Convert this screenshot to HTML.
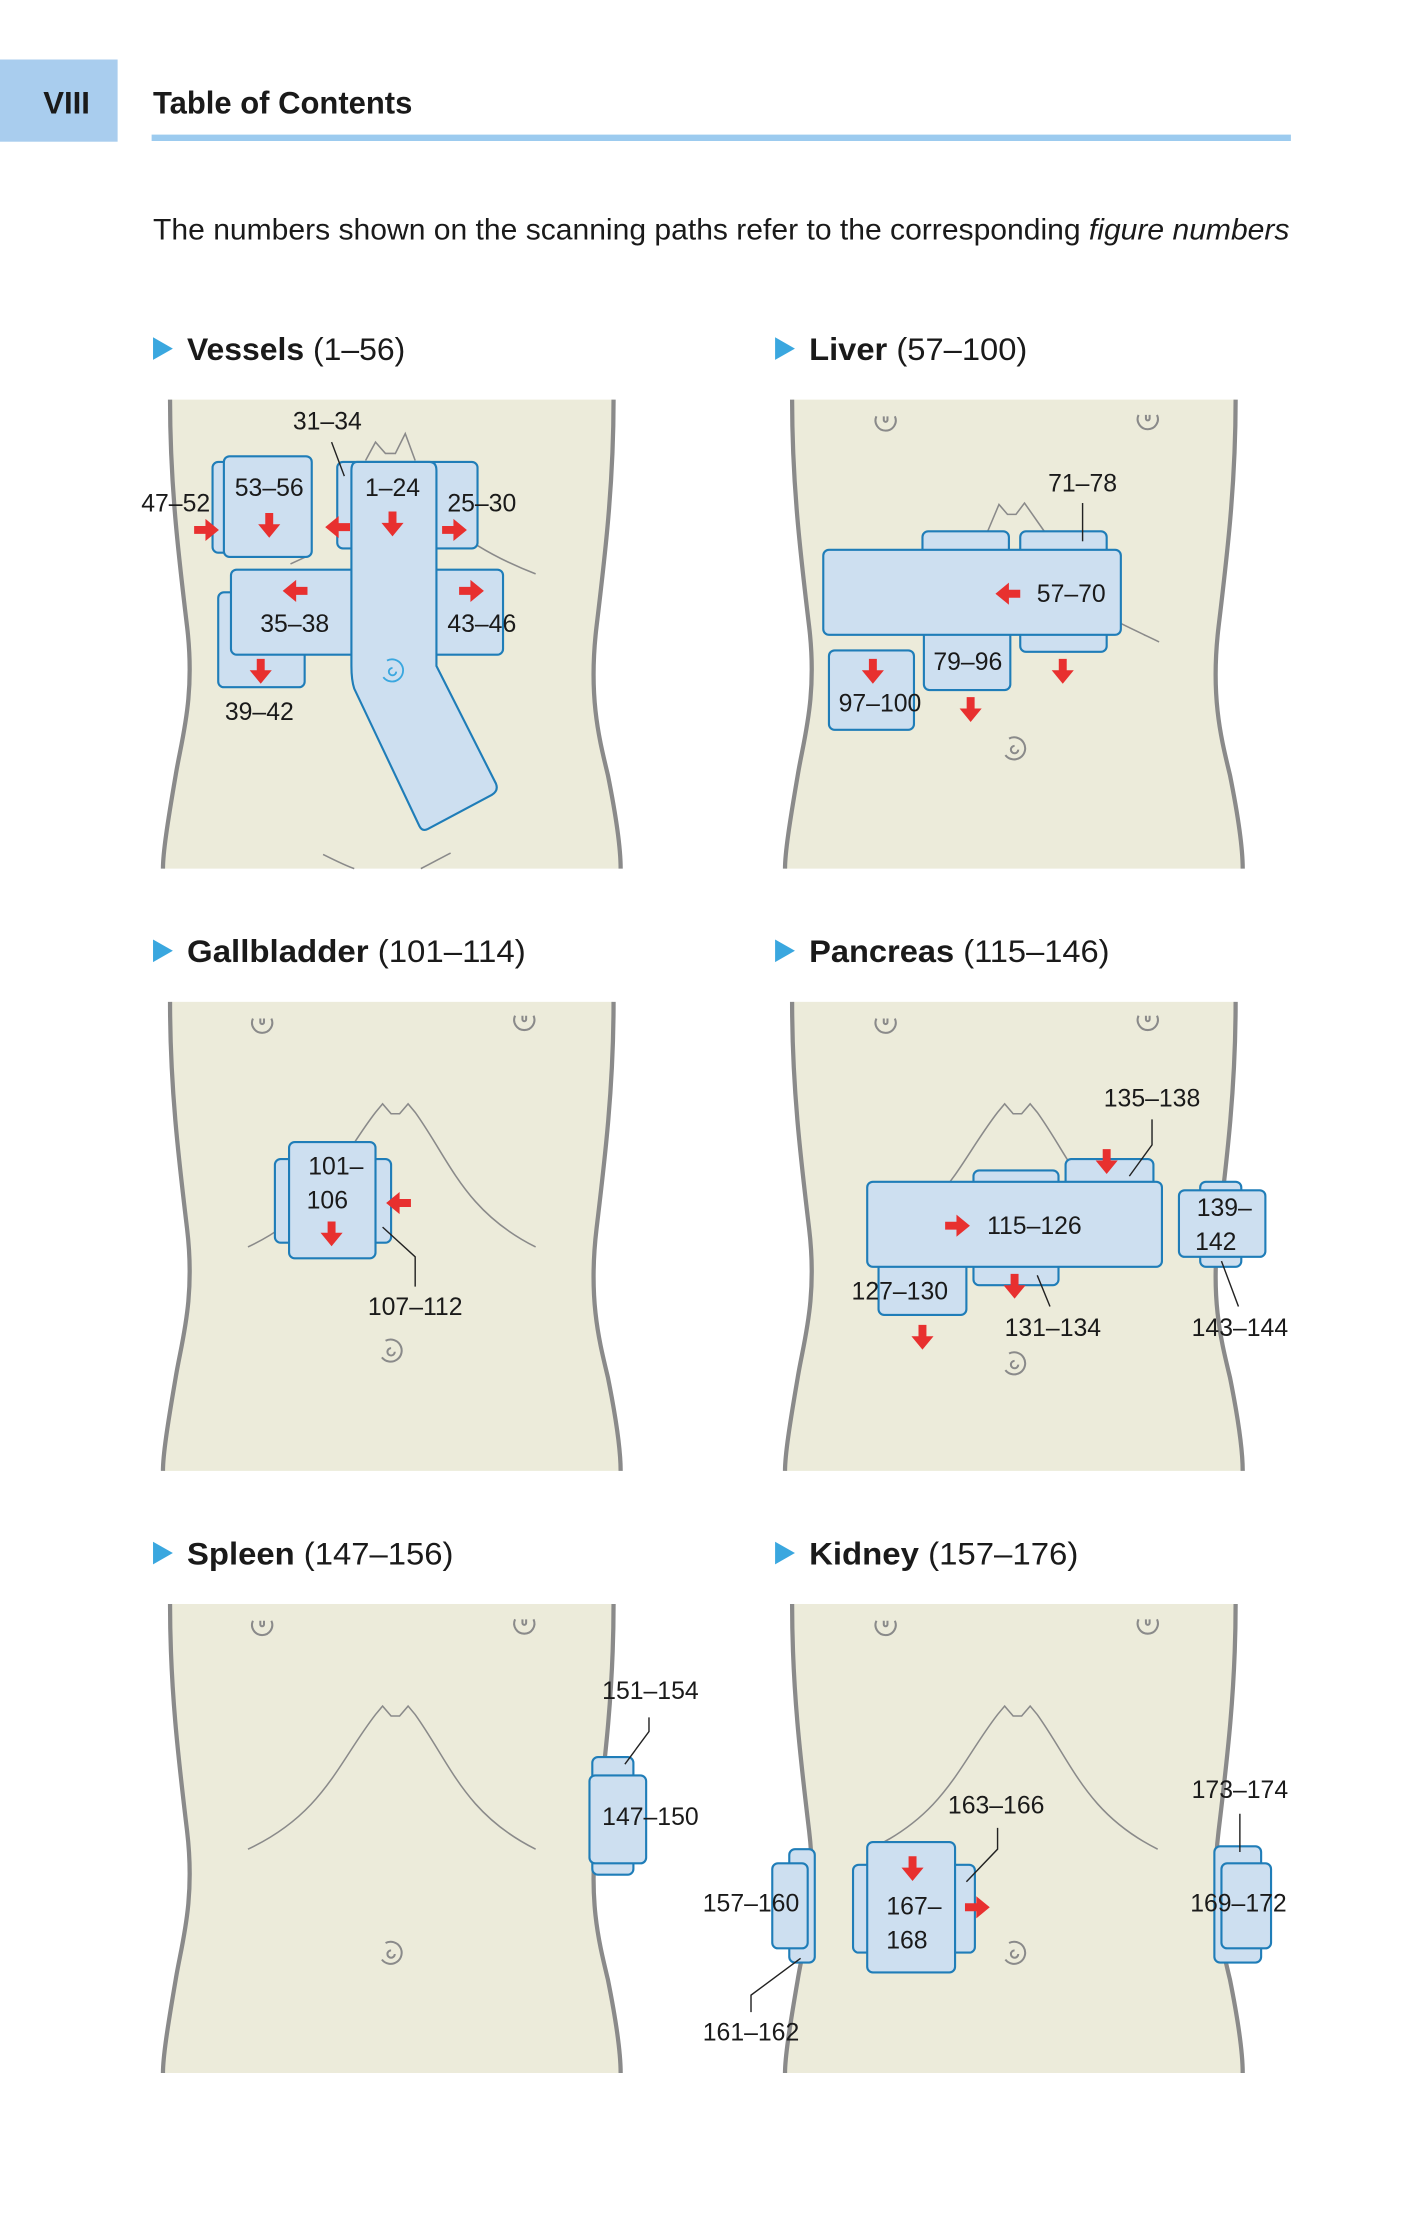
<!DOCTYPE html>
<html><head><meta charset="utf-8"><style>
html,body{margin:0;padding:0;background:#fff;}
svg{display:block;}
text{font-family:"Liberation Sans",sans-serif;fill:#1a1a1a;}
.l{font-size:17.5px;}
.b{fill:#cddff0;stroke:#1f7db8;stroke-width:1.5;}
.ln{stroke:#222;stroke-width:1;fill:none;}
.rib{stroke:#8a8a8a;stroke-width:1.1;fill:none;}
.side{stroke:#8a8a8a;stroke-width:3;fill:none;}
</style></head><body>
<svg width="1417" height="2238" viewBox="0 0 1000 1579.4" preserveAspectRatio="none" xmlns="http://www.w3.org/2000/svg">
<defs>
<path id="dn" d="M-2.8,-9 h5.6 v8 h5 l-7.8,9.5 l-7.8,-9.5 h5 z" fill="#e8302f"/>
<g id="torso">
<path d="M2,0 C2,60 8,110 14,160 C20,210 10,240 6,265 C0,300 -3,320 -3,331 L320,331 C320,320 318,300 311,265 C305,240 297,210 303,160 C309,110 315,60 315,0 Z" fill="#ecebda"/>
<path class="side" d="M2,0 C2,60 8,110 14,160 C20,210 10,240 6,265 C0,300 -3,320 -3,331"/>
<path class="side" d="M315,0 C315,60 309,110 303,160 C297,210 305,240 311,265 C318,300 320,320 320,331"/>
</g>
<g id="nip"><g transform="scale(1.3)"><path class="rib" d="M-5,-4 A5.5,5.5 0 1 0 5,-4"/><path class="rib" d="M-1,-4 v2 a1,1 0 0 0 2,0 v-2"/></g></g>
<g id="nav"><g transform="scale(1.3)"><path class="rib" d="M-3,-6 A6,6 0 1 1 -5,3 M0,-2 a2,2 0 1 0 2,2"/></g></g>
<g id="ribs"><path class="rib" d="M57,170 C110,145 120,110 147,75 L152,69 L158,76 L164,76 L170,69 L175,75 C200,110 210,145 260,170"/></g>
</defs>

<!-- header -->
<rect x="0" y="42" width="83" height="58" fill="#a9cdee"/>
<text x="47" y="80" font-size="22" font-weight="bold" text-anchor="middle" fill="#1a2a3a">VIII</text>
<text x="108" y="80" font-size="22" font-weight="bold" textLength="183" lengthAdjust="spacingAndGlyphs">Table of Contents</text>
<rect x="107" y="95" width="804" height="4.5" fill="#9ccbef"/>
<text x="108" y="169" font-size="21" textLength="802" lengthAdjust="spacingAndGlyphs">The numbers shown on the scanning paths refer to the corresponding <tspan font-style="italic">figure numbers</tspan></text>

<!-- section headers -->
<g font-size="22">
<path d="M108,238 l14,8 l-14,8z" fill="#3aa7df"/><text x="132" y="254" textLength="154" lengthAdjust="spacingAndGlyphs"><tspan font-weight="bold">Vessels</tspan> (1–56)</text>
<path d="M547,238 l14,8 l-14,8z" fill="#3aa7df"/><text x="571" y="254" textLength="154" lengthAdjust="spacingAndGlyphs"><tspan font-weight="bold">Liver</tspan> (57–100)</text>
<path d="M108,663 l14,8 l-14,8z" fill="#3aa7df"/><text x="132" y="679" textLength="239" lengthAdjust="spacingAndGlyphs"><tspan font-weight="bold">Gallbladder</tspan> (101–114)</text>
<path d="M547,663 l14,8 l-14,8z" fill="#3aa7df"/><text x="571" y="679" textLength="212" lengthAdjust="spacingAndGlyphs"><tspan font-weight="bold">Pancreas</tspan> (115–146)</text>
<path d="M108,1088 l14,8 l-14,8z" fill="#3aa7df"/><text x="132" y="1104" textLength="188" lengthAdjust="spacingAndGlyphs"><tspan font-weight="bold">Spleen</tspan> (147–156)</text>
<path d="M547,1088 l14,8 l-14,8z" fill="#3aa7df"/><text x="571" y="1104" textLength="190" lengthAdjust="spacingAndGlyphs"><tspan font-weight="bold">Kidney</tspan> (157–176)</text>
</g>

<!-- torsos -->
<use href="#torso" x="118" y="282"/>
<use href="#torso" x="557" y="282"/>
<use href="#torso" x="118" y="707"/>
<use href="#torso" x="557" y="707"/>
<use href="#torso" x="118" y="1132"/>
<use href="#torso" x="557" y="1132"/>

<!-- ===== Vessels ===== -->
<path class="rib" d="M258,325 L265,312 L272,320 L279,320 L286,306 L293,325"/>
<path class="rib" d="M337,385 C350,393 365,400 378,405"/>
<path class="rib" d="M228,603 C238,608 244,611 250,613 M297,613 C305,609 312,605 318,602"/>
<path class="rib" d="M205,398 L218,392"/>
<rect class="b" x="150" y="326" width="65" height="64" rx="4"/>
<rect class="b" x="158" y="322" width="62" height="71" rx="4"/>
<text class="l" x="190" y="350" text-anchor="middle">53–56</text>
<use href="#dn" x="190" y="371"/>
<text class="l" x="124" y="361" text-anchor="middle">47–52</text>
<use href="#dn" transform="translate(146,374) rotate(-90)"/>
<rect class="b" x="238" y="326" width="99" height="61" rx="4"/>
<use href="#dn" transform="translate(238,372) rotate(90)"/>
<use href="#dn" transform="translate(321,374) rotate(-90)"/>
<text class="l" x="340" y="361" text-anchor="middle">25–30</text>
<rect class="b" x="154" y="418" width="61" height="67" rx="4"/>
<rect class="b" x="163" y="402" width="192" height="60" rx="4"/>
<use href="#dn" transform="translate(208,417) rotate(90)"/>
<text class="l" x="208" y="446" text-anchor="middle">35–38</text>
<use href="#dn" x="184" y="474"/>
<text class="l" x="183" y="508" text-anchor="middle">39–42</text>
<use href="#dn" transform="translate(333,417) rotate(-90)"/>
<text class="l" x="340" y="446" text-anchor="middle">43–46</text>
<path class="b" d="M252,326 L303,326 Q308,326 308,332 L308,470 L350,553 Q352,558 347,561 L302,585 Q298,587 296,583 L250,486 Q248,480 248,470 L248,332 Q248,326 252,326 Z"/>
<text class="l" x="277" y="350" text-anchor="middle">1–24</text>
<use href="#dn" x="277" y="370"/>
<g transform="translate(277,474) scale(1.3)"><path d="M-3,-6 A6,6 0 1 1 -5,3 M0,-2 a2,2 0 1 0 2,2" stroke="#3aa7df" stroke-width="1" fill="none"/></g>
<text class="l" x="231" y="303" text-anchor="middle">31–34</text>
<path class="ln" d="M234,312 L243,336"/>

<!-- ===== Liver ===== -->
<use href="#nip" x="625" y="299"/><use href="#nip" x="810" y="298"/><use href="#nav" x="716" y="529"/>
<path class="rib" d="M697,375 L705,356 L711,363 L717,363 L723,355 L737,375"/>
<path class="rib" d="M791,440 C803,446 812,450 818,453 M593,447 L606,444"/>
<rect class="b" x="651" y="375" width="61" height="20" rx="4"/>
<rect class="b" x="720" y="375" width="61" height="20" rx="4"/>
<rect class="b" x="720" y="440" width="61" height="20" rx="4"/>
<rect class="b" x="652" y="440" width="61" height="47" rx="4"/>
<rect class="b" x="585" y="459" width="60" height="56" rx="4"/>
<rect class="b" x="581" y="388" width="210" height="60" rx="4"/>
<use href="#dn" transform="translate(711,419) rotate(90)"/>
<text class="l" x="756" y="425" text-anchor="middle">57–70</text>
<text class="l" x="764" y="347" text-anchor="middle">71–78</text>
<path class="ln" d="M764,355 L764,382"/>
<text class="l" x="683" y="473" text-anchor="middle">79–96</text>
<use href="#dn" x="750" y="474"/>
<use href="#dn" x="685" y="501"/>
<use href="#dn" x="616" y="474"/>
<text class="l" x="621" y="502" text-anchor="middle">97–100</text>

<!-- ===== Gallbladder ===== -->
<use href="#nip" x="185" y="724"/><use href="#nip" x="370" y="722"/><use href="#nav" x="276" y="954"/>
<use href="#ribs" x="118" y="710"/>
<rect class="b" x="194" y="818" width="82" height="59" rx="4"/>
<rect class="b" x="204" y="806" width="61" height="82" rx="4"/>
<text class="l" x="237" y="829" text-anchor="middle">101–</text>
<text class="l" x="231" y="853" text-anchor="middle">106</text>
<use href="#dn" x="234" y="871"/>
<use href="#dn" transform="translate(281,849) rotate(90)"/>
<path class="ln" d="M270,866 L293,887 L293,908"/>
<text class="l" x="293" y="928" text-anchor="middle">107–112</text>

<!-- ===== Pancreas ===== -->
<use href="#nip" x="625" y="724"/><use href="#nip" x="810" y="722"/><use href="#nav" x="716" y="963"/>
<use href="#ribs" x="557" y="710"/>
<rect class="b" x="687" y="826" width="60" height="18" rx="4"/>
<rect class="b" x="752" y="818" width="62" height="24" rx="4"/>
<rect class="b" x="687" y="885" width="60" height="22" rx="4"/>
<rect class="b" x="620" y="885" width="62" height="43" rx="4"/>
<rect class="b" x="612" y="834" width="208" height="60" rx="4"/>
<use href="#dn" transform="translate(676,865) rotate(-90)"/>
<text class="l" x="730" y="871" text-anchor="middle">115–126</text>
<use href="#dn" x="781" y="820"/>
<path class="ln" d="M797,830 L813,808 L813,790"/>
<text class="l" x="813" y="781" text-anchor="middle">135–138</text>
<use href="#dn" x="716" y="908"/>
<path class="ln" d="M732,900 L741,922"/>
<text class="l" x="743" y="943" text-anchor="middle">131–134</text>
<text class="l" x="635" y="917" text-anchor="middle">127–130</text>
<use href="#dn" x="651" y="944"/>
<rect class="b" x="847" y="834" width="29" height="60" rx="4"/>
<rect class="b" x="832" y="840" width="61" height="47" rx="4"/>
<text class="l" x="864" y="858" text-anchor="middle">139–</text>
<text class="l" x="858" y="882" text-anchor="middle">142</text>
<path class="ln" d="M862,890 L874,922"/>
<text class="l" x="875" y="943" text-anchor="middle">143–144</text>

<!-- ===== Spleen ===== -->
<use href="#nip" x="185" y="1149"/><use href="#nip" x="370" y="1148"/><use href="#nav" x="276" y="1379"/>
<use href="#ribs" x="118" y="1135"/>
<rect class="b" x="418" y="1240" width="29" height="83" rx="4"/>
<rect class="b" x="416" y="1253" width="40" height="62" rx="4"/>
<text class="l" x="459" y="1288" text-anchor="middle">147–150</text>
<text class="l" x="459" y="1199" text-anchor="middle">151–154</text>
<path class="ln" d="M458,1212 L458,1222 L441,1245"/>

<!-- ===== Kidney ===== -->
<use href="#nip" x="625" y="1149"/><use href="#nip" x="810" y="1148"/><use href="#nav" x="716" y="1379"/>
<use href="#ribs" x="557" y="1135"/>
<rect class="b" x="557" y="1305" width="18" height="80" rx="4"/>
<rect class="b" x="545" y="1315" width="25" height="60" rx="4"/>
<text class="l" x="530" y="1349" text-anchor="middle">157–160</text>
<path class="ln" d="M565,1382 L530,1408 L530,1420"/>
<text class="l" x="530" y="1440" text-anchor="middle">161–162</text>
<rect class="b" x="602" y="1316" width="86" height="62" rx="4"/>
<rect class="b" x="612" y="1300" width="62" height="92" rx="4"/>
<use href="#dn" x="644" y="1319"/>
<text class="l" x="645" y="1351" text-anchor="middle">167–</text>
<text class="l" x="640" y="1375" text-anchor="middle">168</text>
<use href="#dn" transform="translate(690,1346) rotate(-90)"/>
<path class="ln" d="M682,1328 L704,1305 L704,1290"/>
<text class="l" x="703" y="1280" text-anchor="middle">163–166</text>
<rect class="b" x="857" y="1303" width="33" height="82" rx="4"/>
<rect class="b" x="862" y="1315" width="35" height="60" rx="4"/>
<text class="l" x="874" y="1349" text-anchor="middle">169–172</text>
<path class="ln" d="M875,1280 L875,1307"/>
<text class="l" x="875" y="1269" text-anchor="middle">173–174</text>
</svg>
</body></html>
